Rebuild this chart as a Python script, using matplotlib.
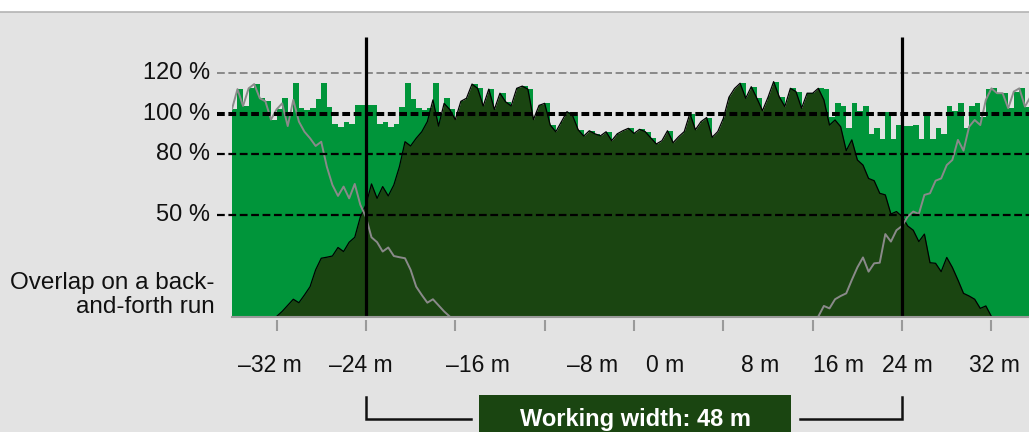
import numpy as np
import matplotlib
matplotlib.use('Agg')
import matplotlib.pyplot as plt
from matplotlib.patches import Rectangle
from matplotlib.lines import Line2D

plt.rcParams['font.family'] = ['Liberation Sans', 'DejaVu Sans']
plt.rcParams['lines.scale_dashes'] = False

# ---------------- data ----------------
# Spray distribution of a single pass (% of target rate), every 0.5 m from -32 m to +32 m
pass_x_start = -32.0
pass_step = 0.5
single_pass = [
    0, 2.5, 5.5, 8.5, 6.8, 10.6, 14.7, 23, 28.7, 29.2, 29.8, 34, 32,          # -32 .. -26
    36.6, 39, 49, 55, 65.3, 58.2, 64, 59.4, 64.8, 73.8, 86.1, 84,             # -25.5 .. -20
    87.8, 91, 96, 106.7, 93.8, 105, 102, 97, 106, 107.5, 114.5, 112.4,       # -19.5 .. -14
    103.7, 112, 102, 110, 105.8, 103.7, 112.4, 113.5, 112, 97, 104, 105,     # -13.5 .. -8
    94.3, 91, 96, 100.9, 99, 92, 88.9, 91.5, 90, 89, 91, 86.6,               # -7.5 .. -2
    90, 91.5, 92.7, 90.2, 92.2, 91.1, 88, 85, 86.6, 91.5, 85.6, 88.6,        # -1.5 .. 4
    91.1, 100, 92, 96, 98, 88.3, 91.1, 97.6, 108, 112.3, 114.9, 107.5,       # 4.5 .. 10
    113.2, 107.5, 101.4, 108, 115.7, 108.3, 103.4, 112.4, 110.8, 102.6,      # 10.5 .. 15
    110, 110, 112.4, 106.7, 94.3, 96.8, 93.5, 81.7, 87, 77.1,                # 15.5 .. 20
    74.6, 68, 66.9, 60.7, 59.9, 50.5, 51.7, 49.2, 44.6, 42.5,                # 20.5 .. 25
    36.9, 40.6, 26.5, 26.2, 22.1, 29.1, 24.2, 18, 11.4, 10.1,                # 25.5 .. 30
    8.5, 4, 5.2, 0,                                                          # 30.5 .. 32
]
# neighbouring passes (back-and-forth: mirrored profile) are centred this far away
return_offset = 48.5
working_width = 48

ref_levels = [120, 100, 80, 50]
ref_labels = ['120 %', '100 %', '80 %', '50 %']
tick_values = [-32, -24, -16, -8, 0, 8, 16, 24, 32]
tick_labels = ['–32 m', '–24 m', '–16 m', '–8 m', '0 m', '8 m', '16 m', '24 m', '32 m']
tick_label_pos = [-32.6, -24.5, -14.0, -3.7, 2.8, 11.3, 18.35, 24.45, 32.3]
side_label = 'Overlap on a back-\nand-forth run'
box_label = 'Working width: 48 m'

# ---------------- colours ----------------
BG = '#e3e3e3'
LIGHT = '#00953a'
DARK = '#1a4511'
GRAY = '#8a8a8a'
TXT = '#111111'

f = np.array(single_pass, dtype=float)
x_pass = pass_x_start + pass_step * np.arange(len(f))


def profile_at(x):
    """Value of the single pass profile at grid position x (0 outside)."""
    idx = np.rint((np.asarray(x) - pass_x_start) / pass_step).astype(int)
    ok = (idx >= 0) & (idx < len(f))
    out = np.zeros(np.shape(idx))
    out[ok] = f[idx[ok]]
    return out


x_left = -return_offset - x_pass
x_right = return_offset - x_pass
x_bar = np.arange(-36.0, 36.0, pass_step)
total = profile_at(x_bar) + profile_at(-return_offset - x_bar) + profile_at(return_offset - x_bar)

# ---------------- figure ----------------
W, H = 1029, 432
fig = plt.figure(figsize=(W / 100, H / 100), dpi=100)
fig.patch.set_facecolor('white')
top_band = 11.5
fig.patches.append(Rectangle((0, 0), 1, (H - top_band) / H, transform=fig.transFigure,
                             facecolor=BG, edgecolor='none', zorder=-10))
fig.lines.append(Line2D([0, 1], [(H - top_band) / H] * 2, transform=fig.transFigure,
                        color='#b4b4b4', lw=1.2))

px_per_m = 11.17
x0_px = 634
ax_left = x0_px - 36 * px_per_m
ax_right = x0_px + 36 * px_per_m
y_base = 316.5
px_per_pct = 2.03
ytop = 137.7
ax = fig.add_axes([ax_left / W, (H - y_base) / H, (ax_right - ax_left) / W,
                   ytop * px_per_pct / H])
ax.set_xlim(-36, 36)
ax.set_ylim(0, ytop)
ax.set_facecolor('none')
for s in ['top', 'left', 'right']:
    ax.spines[s].set_visible(False)
ax.spines['bottom'].set_color('#9a9a9a')
ax.spines['bottom'].set_linewidth(1.5)
ax.spines['bottom'].set_zorder(8)
ax.set_xticks([])
ax.set_yticks([])

ax.bar(x_bar, total, width=pass_step, align='edge', color=LIGHT, linewidth=0, zorder=1)
ax.fill_between(x_pass, f, 0, color=DARK, linewidth=0, zorder=2)
ax.plot(x_pass, f, color='black', lw=0.9, zorder=3)
ax.plot(x_left, f, color=GRAY, lw=1.4, zorder=4)
ax.plot(x_right, f, color=GRAY, lw=1.4, zorder=4)

# reference lines
styles = {120: dict(color='#7a7a7a', lw=1.2), 100: dict(color='black', lw=2.9),
          80: dict(color='black', lw=1.6), 50: dict(color='black', lw=1.6)}
for lev, lab in zip(ref_levels, ref_labels):
    ax.plot([-37.3, 36], [lev, lev], dashes=(5.6, 2.6), clip_on=False, zorder=5,
            solid_capstyle='butt', dash_capstyle='butt', **styles[lev])
    ax.text(-37.95, lev, lab, ha='right', va='center', fontsize=17, color=TXT,
            clip_on=False)

ax.text(-37.55, 10.6, side_label, ha='right', va='center', fontsize=17.5,
        color=TXT, linespacing=1.12, multialignment='right', clip_on=False)

# working width boundaries
for xv in (-working_width / 2, working_width / 2):
    ax.plot([xv, xv], [0, ytop], color='black', lw=2.3, zorder=6, solid_capstyle='butt')

# ticks and labels below the axis
ax.vlines(tick_values, -1.7, -7.1, colors='#9a9a9a', lw=1.5, clip_on=False)
for xp, lab in zip(tick_label_pos, tick_labels):
    ax.text(xp, -23.9, lab, ha='center', va='center', fontsize=16.5, color=TXT,
            clip_on=False)

# bracket and box
yb_top, yb_bot = -39.7, -50.5
half = working_width / 2
ax.plot([-half, -half, -14.6], [yb_top, yb_bot, yb_bot], color=TXT, lw=1.8,
        clip_on=False, solid_joinstyle='miter')
ax.plot([14.86, half, half], [yb_bot, yb_bot, yb_top], color=TXT, lw=1.8,
        clip_on=False, solid_joinstyle='miter')
ax.add_patch(Rectangle((-13.9, -62), 27.96, 62 - 38.7, facecolor=DARK, edgecolor='none',
                       clip_on=False))
ax.text(0.1, -50.5, box_label, ha='center', va='center', fontsize=17, fontweight='bold',
        color='white', clip_on=False)

fig.savefig('out.png', dpi=100, facecolor=fig.get_facecolor())
